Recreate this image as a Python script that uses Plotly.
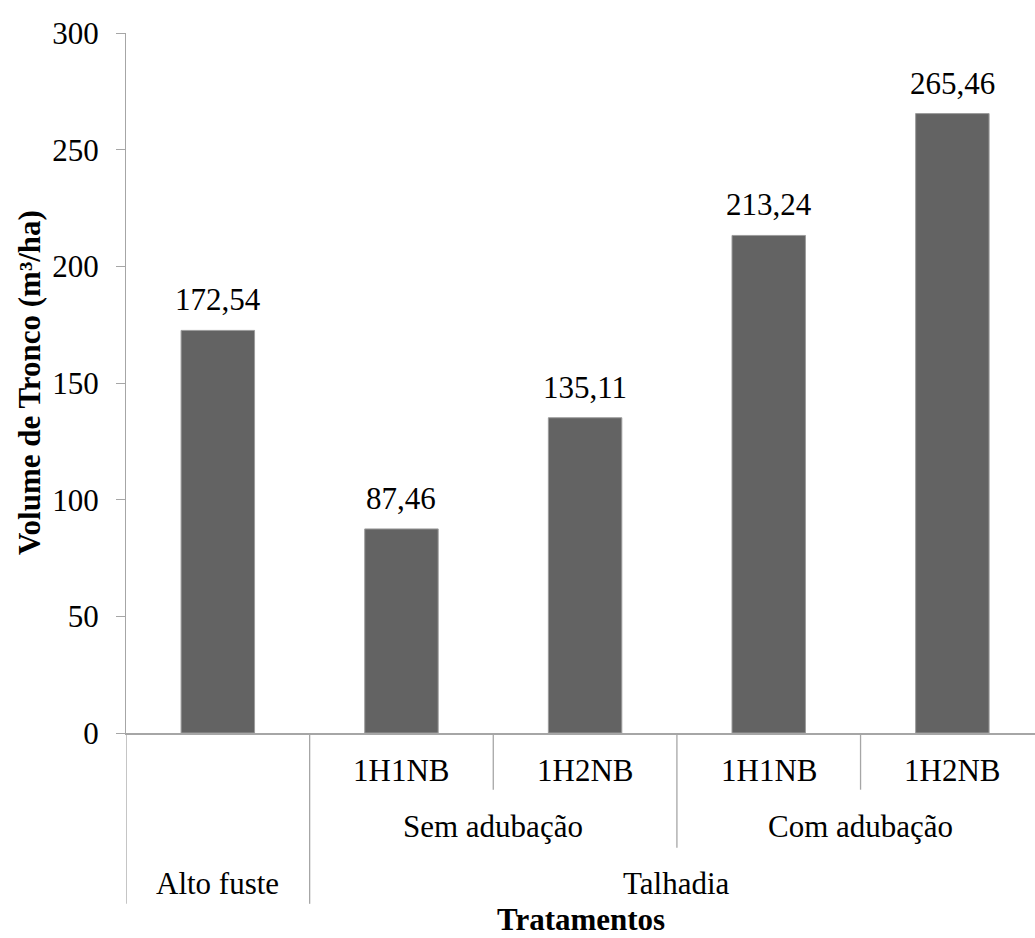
import plotly.graph_objects as go

# Treatment hierarchy: system / fertilisation / harvest scheme
sistema = ["Alto fuste", "Talhadia", "Talhadia", "Talhadia", "Talhadia"]
adubacao = ["", "Sem adubação", "Sem adubação", "Com adubação", "Com adubação"]
colheita = ["", "1H1NB", "1H2NB", "1H1NB", "1H2NB"]
volume = [172.54, 87.46, 135.11, 213.24, 265.46]

y_ticks = [0, 50, 100, 150, 200, 250, 300]

FONT = "Liberation Serif, Times New Roman, serif"
FS = 31
AXIS_GRAY = "#a6a6a6"

xpos = list(range(len(volume)))

fig = go.Figure()
fig.add_trace(go.Bar(
    x=xpos,
    y=volume,
    width=0.4,
    marker=dict(color="#636363", line=dict(color="#9c9c9c", width=1)),
    hoverinfo="skip",
))

annotations = []
shapes = []

# value labels above the bars
for x, v in zip(xpos, volume):
    annotations.append(dict(
        x=x, y=v, xref="x", yref="y", text=f"{v:.2f}".replace(".", ","),
        showarrow=False, yanchor="bottom", yshift=11,
        font=dict(family=FONT, size=FS, color="black"),
    ))


def groups(labels):
    """Contiguous runs of equal labels -> (label, start, end)."""
    out = []
    start = 0
    for i in range(1, len(labels) + 1):
        if i == len(labels) or labels[i] != labels[start]:
            out.append((labels[start], start, i - 1))
            start = i
    return out


# row positions (paper y) for the three label levels and their divider depths
row_y = [-0.054, -0.133, -0.215]
row_depth = [-0.081, -0.164, -0.244]
levels = [colheita, adubacao, sistema]

for lvl, labels in enumerate(levels):
    for label, s, e in groups(labels):
        if label:
            annotations.append(dict(
                x=(s + e) / 2, y=row_y[lvl], xref="x", yref="paper",
                text=label, showarrow=False, yanchor="middle",
                font=dict(family=FONT, size=FS, color="black"),
            ))

# vertical separators between categories, depth given by highest level that changes
for b in range(len(volume)):
    depth = None
    if b == 0:
        depth = row_depth[2]
    else:
        for lvl in (2, 1, 0):
            if levels[lvl][b] != levels[lvl][b - 1]:
                depth = row_depth[lvl]
                break
        if depth is None:
            depth = row_depth[0]
    shapes.append(dict(
        type="line", xref="x", yref="paper",
        x0=b - 0.5, x1=b - 0.5, y0=0, y1=depth,
        line=dict(color=AXIS_GRAY, width=1.3),
    ))

# axis titles
annotations.append(dict(
    x=0.5, y=-0.2665, xref="paper", yref="paper", text="<b>Tratamentos</b>",
    showarrow=False, yanchor="middle", xanchor="center",
    font=dict(family=FONT, size=FS, color="black"),
))
annotations.append(dict(
    x=-0.1067, y=0.5, xref="paper", yref="paper",
    text="<b>Volume de Tronco (m³/ha)</b>", textangle=-90,
    showarrow=False, xanchor="center", yanchor="middle",
    font=dict(family=FONT, size=FS, color="black"),
))

fig.update_layout(
    width=1035, height=938,
    margin=dict(l=126, r=0, t=33, b=205),
    paper_bgcolor="white", plot_bgcolor="white",
    showlegend=False,
    annotations=annotations,
    shapes=shapes,
    font=dict(family=FONT, size=FS, color="black"),
    xaxis=dict(
        range=[-0.5, 4.45], showticklabels=False, ticks="",
        showgrid=False, zeroline=False,
        showline=True, linecolor=AXIS_GRAY, linewidth=1.5,
    ),
    yaxis=dict(
        range=[0, 300], tickvals=y_ticks, ticks="outside", ticklen=9,
        tickcolor=AXIS_GRAY, tickwidth=1.3,
        showgrid=False, zeroline=False,
        showline=True, linecolor=AXIS_GRAY, linewidth=1.3,
        ticklabelstandoff=11,
        tickfont=dict(family=FONT, size=FS, color="black"),
    ),
)

fig.write_html("out.html")
